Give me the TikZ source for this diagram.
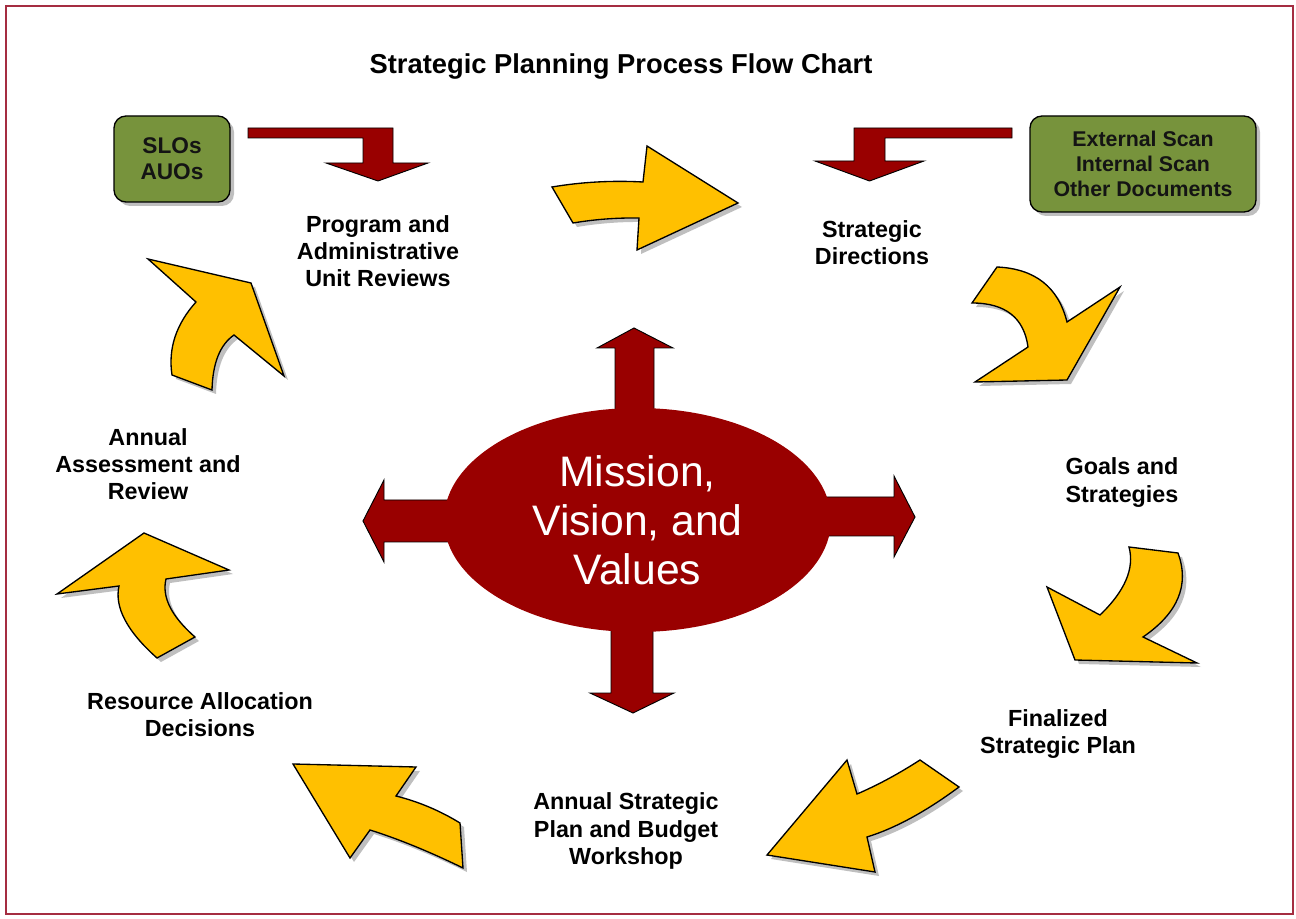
\documentclass[tikz,border=0pt]{standalone}
\usepackage{fontspec}
\setmainfont{Liberation Sans}
\usetikzlibrary{shadows,shapes.geometric}
\definecolor{dred}{HTML}{990000}
\definecolor{gold}{HTML}{FFC000}
\definecolor{olivegreen}{HTML}{77933C}
\definecolor{framecol}{RGB}{165,45,65}
\tikzset{
  yarrow/.style={fill=gold, draw=black, line width=1pt, line join=miter,
    drop shadow={shadow xshift=3pt, shadow yshift=-3pt, fill=black!50}},
  rarrow/.style={fill=dred, draw=black, line width=0.7pt},
  gbox/.style={draw=black, line width=1pt, fill=olivegreen, rounded corners=9pt,
    drop shadow={shadow xshift=3pt, shadow yshift=-3pt, fill=black!50},
    text=black!92, align=center, inner sep=0pt},
  lbl/.style={font=\bfseries\fontsize{17.5}{20.3}\selectfont, align=center, inner sep=0pt},
}
\begin{document}
\begin{tikzpicture}[x=0.75pt,y=-0.75pt]
\useasboundingbox (0,0) rectangle (1296,919);
\draw[framecol, line width=1.2pt] (6,6) rectangle (1293,914);

% title
\node[font=\bfseries\fontsize{20.5}{24}\selectfont, inner sep=0pt] (title) at (621,66) {Strategic Planning Process Flow Chart};

% yellow curved arrows
\path[yarrow] (552,187) .. controls (581.7,182) and (612,180.3) .. (643,182) -- (647,146) -- (738,203) -- (637,250) -- (639,218) .. controls (617,217.7) and (595,219.3) .. (573,223) -- cycle;
\path[yarrow] (997,267) .. controls (1035,268.7) and (1058.3,287) .. (1067,322) -- (1120,287) -- (1067,380) -- (975,382) -- (1028,347) .. controls (1024,317.7) and (1005.3,303) .. (972,303) -- cycle;
\path[yarrow] (1129,547) -- (1178,553) .. controls (1189.7,585) and (1178,613) .. (1143,637) -- (1197,663) -- (1075,660) -- (1047,587) -- (1100,615) .. controls (1125,591) and (1134.7,568.3) .. (1129,547) -- cycle;
\path[yarrow] (920,760) -- (959,787) .. controls (925.7,811.7) and (895,828.3) .. (867,837) -- (875,872) -- (767,855) -- (847,760) -- (857,794) .. controls (877.3,785.3) and (898.3,774) .. (920,760) -- cycle;
\path[yarrow] (293,764) -- (416,767) -- (396,796) .. controls (418.7,801.7) and (440,810.7) .. (460,823) -- (463,868) .. controls (428.7,851.3) and (397.7,838.7) .. (370,830) -- (350,858) -- cycle;
\path[yarrow] (144,533) -- (229,570) -- (166,579) .. controls (161.7,597) and (171.3,616.3) .. (195,637) -- (157,658) .. controls (127,631.3) and (114.3,607.3) .. (119,586) -- (57,594) -- cycle;
\path[yarrow] (148,259) -- (251,283) -- (284,376) -- (234,335) .. controls (220,344.7) and (212.7,363) .. (212,390) -- (172,375) .. controls (168,348.7) and (176,324.3) .. (196,302) -- cycle;

% red bent arrows at top
\path[rarrow] (248,128) -- (393,128) -- (393,163) -- (428,163) -- (378,181) -- (326,163) -- (363,163) -- (363,138) -- (248,138) -- cycle;
\path[rarrow] (854,128) -- (1012,128) -- (1012,138) -- (885,138) -- (885,161) -- (924,161) -- (869.5,181) -- (815,161) -- (854,161) -- cycle;

% red arrows around ellipse
\path[rarrow] (615,420) -- (615,348) -- (597,348) -- (634,328) -- (673,348) -- (654,348) -- (654,420) -- cycle;
\path[rarrow] (460,500) -- (384,500) -- (384,480) -- (363,521) -- (384,562) -- (384,542) -- (460,542) -- cycle;
\path[rarrow] (815,497) -- (894,497) -- (894,476) -- (915,517) -- (894,557) -- (894,536) -- (815,536) -- cycle;
\path[rarrow] (611,620) -- (611,693) -- (590,693) -- (633,713) -- (674,693) -- (653,693) -- (653,620) -- cycle;

% central ellipse
\node[ellipse, fill=dred, minimum width=290.25pt, minimum height=168pt, inner sep=0pt,
  text=white, align=center, font=\fontsize{32}{36.75}\selectfont] (mvv) at (637.5,520)
  {Mission,\\Vision, and\\Values};

% labels
\node[lbl] (pr)  at (378,251) {Program and\\Administrative\\Unit Reviews};
\node[lbl] (sd)  at (872,242.5) {Strategic\\Directions};
\node[lbl] (gs)  at (1122,482.5) {Goals and\\Strategies};
\node[lbl] (fsp) at (1058,734) {Finalized\\Strategic Plan};
\node[lbl] (asp) at (626,831) {Annual Strategic\\Plan and Budget\\Workshop};
\node[lbl] (rad) at (200,714.5) {Resource Allocation\\Decisions};
\node[lbl] (aar) at (148,464) {Annual\\Assessment and\\Review};

% green boxes
\node[gbox, minimum width=87pt, minimum height=64.5pt, font=\bfseries\fontsize{17}{19.5}\selectfont] (slo) at (172,159) {SLOs\\AUOs};
\node[gbox, minimum width=169.5pt, minimum height=72pt, font=\bfseries\fontsize{16}{18.75}\selectfont] (ext) at (1143,164) {External Scan\\Internal Scan\\Other Documents};
\end{tikzpicture}
\end{document}
